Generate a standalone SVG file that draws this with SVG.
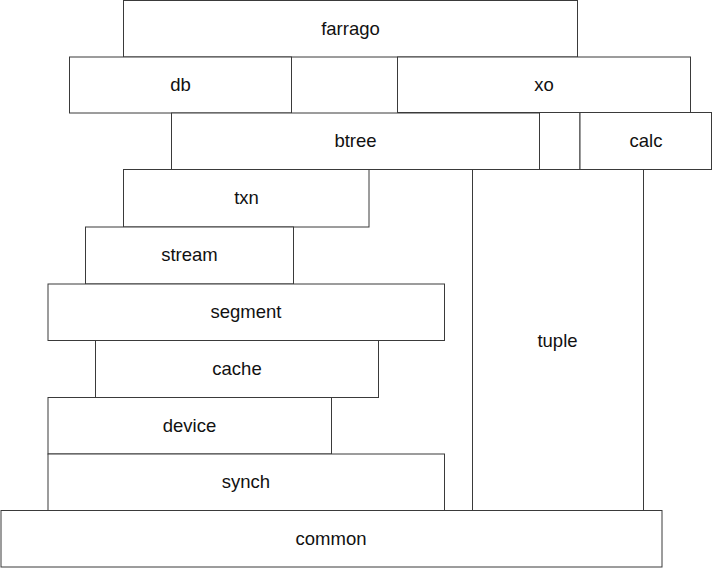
<svg xmlns="http://www.w3.org/2000/svg" width="713" height="568" viewBox="0 0 713 568">
<style>
rect{fill:#fff;stroke:#3a3a3a;stroke-width:1}
text{font-family:"Liberation Sans",Arial,sans-serif;font-size:18.5px;fill:#111;text-anchor:middle}
</style>
<rect x="0" y="0" width="713" height="568" style="stroke:none"/>
<g id="farrago"><rect x="123.5" y="0.5" width="454" height="56.5"/><text x="350.5" y="34.5">farrago</text></g>
<g id="db"><rect x="69.5" y="57" width="222" height="56"/><text x="180.5" y="91">db</text></g>
<g id="xo"><rect x="397.5" y="57" width="293" height="55.5"/><text x="544" y="91">xo</text></g>
<g id="btree"><rect x="171.5" y="113" width="368" height="56.5"/><text x="355.5" y="147">btree</text></g>
<g id="gap"><rect x="539.5" y="112.5" width="40.5" height="57"/></g>
<g id="calc"><rect x="580" y="112.5" width="131.5" height="57"/><text x="646" y="147">calc</text></g>
<g id="txn"><rect x="123.5" y="169.5" width="245.5" height="57.5"/><text x="246.5" y="204">txn</text></g>
<g id="stream"><rect x="85.5" y="227" width="208" height="57"/><text x="189.5" y="261">stream</text></g>
<g id="segment"><rect x="48" y="284" width="396.5" height="56.5"/><text x="246" y="318">segment</text></g>
<g id="cache"><rect x="95.5" y="340.5" width="283" height="57"/><text x="237" y="374.5">cache</text></g>
<g id="device"><rect x="48" y="397.5" width="283.5" height="56.5"/><text x="189.5" y="431.5">device</text></g>
<g id="synch"><rect x="48" y="454" width="396.5" height="56.5"/><text x="246" y="488">synch</text></g>
<g id="tuple"><rect x="472.5" y="169.5" width="171" height="341"/><text x="557.5" y="346.5">tuple</text></g>
<g id="common"><rect x="1" y="510.5" width="661" height="56.5"/><text x="331" y="545">common</text></g>
<g id="connectors"></g>
</svg>
